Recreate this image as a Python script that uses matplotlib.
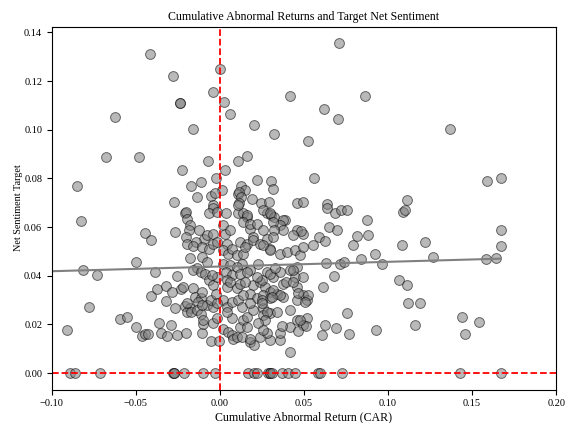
import matplotlib
matplotlib.use('Agg')
import matplotlib.pyplot as plt
import numpy as np

# CAR vs net sentiment target
car = [
    -0.0417, 0.0000, -0.0280, 0.0710, -0.0238, -0.0235, -0.0040, 0.0024, 0.0061, 0.0417,
    -0.0623, -0.0163, 0.0204, 0.0320, 0.0861, 0.0621, 0.0700, 0.1370, 0.0524, 0.0561,
    0.1587, 0.1670, 0.0460, 0.0496, 0.0639, 0.0635, 0.0687, 0.0718, 0.0758, 0.1110,
    0.1087, 0.1100, 0.0873, -0.0679, -0.0480, -0.0853, -0.0226, -0.0071, 0.0107, 0.0159,
    0.0030, -0.0022, -0.0171, -0.0111, 0.0220, 0.0305, 0.0315, 0.0123, 0.0147, 0.0014,
    -0.0137, -0.0052, -0.0032, 0.0105, 0.0115, 0.0123, 0.0190, 0.0111, 0.0242, 0.0293,
    -0.0274, -0.0042, -0.0044, -0.0210, -0.0205, -0.0067, -0.0020, 0.0036, 0.0107, 0.0139,
    0.0159, 0.0278, 0.0302, 0.0321, 0.0389, -0.0829,
    -0.0448, -0.0409, -0.0500, -0.0813, -0.0734, -0.0778, -0.0595, -0.0556, -0.0913, -0.0500,
    -0.0466, -0.0446, -0.0429, -0.0365, -0.0353, -0.0317, -0.0293, -0.0258, -0.0204, -0.0107,
    -0.0103, -0.0052, -0.0006, -0.0270, -0.0413, -0.0377, -0.0321, -0.0321, -0.0270, -0.0286,
    -0.0230, -0.0222, -0.0254, -0.0389, -0.0198, -0.0179, -0.0183, -0.0202, -0.0194, -0.0127,
    -0.0095, -0.0079, -0.0044, -0.0143, -0.0159, -0.0107, -0.0067, -0.0040, -0.0020, -0.0179,
    -0.0139, -0.0159, -0.0115, -0.0087, -0.0107, -0.0079, -0.0067, -0.0040, -0.0020, -0.0159,
    -0.0147, -0.0111, -0.0131, -0.0210, -0.0179, -0.0198, -0.0171, -0.0139, -0.0115, -0.0079,
    -0.0040, -0.0052, -0.0044, -0.0020,
    0.0020, 0.0030, 0.0040, 0.0060, 0.0020, 0.0049, 0.0070, 0.0020, 0.0060, 0.0036,
    0.0070, 0.0040, 0.0044, 0.0060, 0.0020, 0.0040, 0.0070, 0.0109, 0.0129, 0.0020,
    0.0049, 0.0070, 0.0079, 0.0099, 0.0129, 0.0070, 0.0119, 0.0139, 0.0159, 0.0159,
    0.0109, 0.0179, 0.0198, 0.0139, 0.0179, 0.0218, 0.0117, 0.0159, 0.0198, 0.0238,
    0.0278, 0.0298, 0.0129, 0.0179, 0.0228, 0.0278, 0.0317, 0.0357, 0.0198, 0.0238,
    0.0268, 0.0298, 0.0179, 0.0218, 0.0258, 0.0298, 0.0337, 0.0198, 0.0258, 0.0298,
    0.0258, 0.0337, 0.0238, 0.0298, 0.0278, 0.0357, 0.0357, 0.0417, 0.0456, 0.0516,
    0.0496, 0.0417, 0.0179, 0.0202, 0.0258, 0.0298, 0.0377, 0.0357, 0.0377, 0.0456,
    0.0496, 0.0258, 0.0298, 0.0357, 0.0397, 0.0446, 0.0476, 0.0496, 0.0456, 0.0417,
    0.0446, 0.0496, 0.0377, 0.0456, 0.0377, 0.0496, 0.0456, 0.0516, 0.0417,
    0.0591, 0.0627, 0.0651, 0.0695, 0.0552, 0.0790, 0.0814, 0.0883, 0.0629, 0.0714,
    0.0738, 0.0837, 0.0925, 0.0964, 0.1083, 0.1222, 0.1266, 0.1581, 0.1641, 0.1671,
    0.1671, 0.0680, 0.0615, 0.1064, 0.1115, 0.1121, 0.1190, 0.0754, 0.0627, 0.0690,
    0.0609, 0.0770, 0.0927, 0.1159, 0.1442, 0.1540, 0.1458, 0.0526, 0.0506, 0.0510,
    0.0476, 0.0466, 0.0480, 0.0437, 0.0317, 0.0321, 0.0314,
    0.0248, 0.0298, 0.0327, 0.0436, 0.0393, 0.0436, 0.0317, 0.0357, 0.0308, 0.0248,
    0.0278, 0.0367, 0.0466,
    -0.0049, -0.0024, -0.0198, -0.0109, -0.0109, -0.0099, -0.0020,
    0.0099, 0.0139, 0.0149, 0.0258, 0.0099, 0.0119, 0.0159, 0.0218,
    0.0099, 0.0119, 0.0149, 0.0139, 0.0248, 0.0179,
    0.0040, 0.0159, 0.0179, 0.0268, 0.0228, 0.0258,
    # companies with zero net sentiment
    -0.0893, -0.0863, -0.0714, -0.0282, -0.0274, -0.0274, -0.0214, -0.0103, -0.0030, 0.0169,
    0.0202, 0.0218, 0.0288, 0.0298, 0.0298, 0.0308, 0.0367, 0.0407, 0.0446, 0.0585,
    0.0595, 0.0724, 0.1425, 0.1671,
]

sentiment = [
    0.1310, 0.1250, 0.1220, 0.1356, 0.1110, 0.1112, 0.1155, 0.1114, 0.1066, 0.1137,
    0.1054, 0.1002, 0.1018, 0.0984, 0.1140, 0.1084, 0.1043, 0.1002, 0.0955, 0.0800,
    0.0789, 0.0802, 0.0698, 0.0703, 0.0695, 0.0677, 0.0656, 0.0669, 0.0669, 0.0710,
    0.0664, 0.0669, 0.0630, 0.0890, 0.0887, 0.0769, 0.0833, 0.0873, 0.0873, 0.0891,
    0.0833, 0.0803, 0.0770, 0.0784, 0.0795, 0.0789, 0.0757, 0.0770, 0.0754, 0.0751,
    0.0725, 0.0729, 0.0740, 0.0737, 0.0744, 0.0724, 0.0716, 0.0700, 0.0700, 0.0702,
    0.0705, 0.0692, 0.0679, 0.0656, 0.0660, 0.0658, 0.0661, 0.0656, 0.0658, 0.0656,
    0.0642, 0.0658, 0.0650, 0.0642, 0.0630, 0.0627,
    0.0575, 0.0549, 0.0457, 0.0423, 0.0402, 0.0272, 0.0222, 0.0229, 0.0177, 0.0190,
    0.0152, 0.0159, 0.0160, 0.0204, 0.0165, 0.0152, 0.0196, 0.0155, 0.0163, 0.0163,
    0.0201, 0.0130, 0.0133, 0.0580, 0.0316, 0.0346, 0.0357, 0.0297, 0.0266, 0.0334,
    0.0344, 0.0352, 0.0398, 0.0416, 0.0635, 0.0608, 0.0587, 0.0560, 0.0532, 0.0587,
    0.0553, 0.0567, 0.0573, 0.0539, 0.0521, 0.0518, 0.0512, 0.0532, 0.0539, 0.0471,
    0.0430, 0.0423, 0.0416, 0.0409, 0.0478, 0.0457, 0.0382, 0.0361, 0.0395, 0.0348,
    0.0313, 0.0307, 0.0293, 0.0275, 0.0266, 0.0252, 0.0252, 0.0259, 0.0242, 0.0279,
    0.0272, 0.0300, 0.0204, 0.0225,
    0.0608, 0.0573, 0.0532, 0.0590, 0.0505, 0.0491, 0.0512, 0.0450, 0.0443, 0.0416,
    0.0402, 0.0382, 0.0354, 0.0375, 0.0300, 0.0272, 0.0293, 0.0300, 0.0272, 0.0183,
    0.0170, 0.0156, 0.0142, 0.0149, 0.0149, 0.0225, 0.0190, 0.0218, 0.0231, 0.0649,
    0.0690, 0.0594, 0.0560, 0.0621, 0.0614, 0.0614, 0.0539, 0.0532, 0.0546, 0.0532,
    0.0553, 0.0512, 0.0450, 0.0423, 0.0450, 0.0416, 0.0395, 0.0416, 0.0361, 0.0375,
    0.0354, 0.0334, 0.0327, 0.0307, 0.0320, 0.0307, 0.0327, 0.0259, 0.0266, 0.0245,
    0.0238, 0.0252, 0.0149, 0.0135, 0.0163, 0.0135, 0.0163, 0.0190, 0.0218, 0.0225,
    0.0197, 0.0087, 0.0128, 0.0115, 0.0669, 0.0656, 0.0628, 0.0608, 0.0587, 0.0587,
    0.0573, 0.0587, 0.0505, 0.0491, 0.0498, 0.0505, 0.0484, 0.0518, 0.0436, 0.0423,
    0.0395, 0.0395, 0.0368, 0.0354, 0.0313, 0.0320, 0.0300, 0.0300, 0.0259,
    0.0560, 0.0543, 0.0600, 0.0590, 0.0528, 0.0528, 0.0562, 0.0569, 0.0454, 0.0447,
    0.0456, 0.0467, 0.0491, 0.0450, 0.0528, 0.0539, 0.0478, 0.0468, 0.0471, 0.0590,
    0.0521, 0.0398, 0.0354, 0.0384, 0.0360, 0.0286, 0.0289, 0.0245, 0.0196, 0.0186,
    0.0157, 0.0160, 0.0178, 0.0196, 0.0231, 0.0209, 0.0160, 0.0320, 0.0293, 0.0193,
    0.0218, 0.0174, 0.0584, 0.0567, 0.0621, 0.0587, 0.0560,
    0.0382, 0.0409, 0.0430, 0.0423, 0.0375, 0.0375, 0.0341, 0.0320, 0.0313, 0.0300,
    0.0252, 0.0193, 0.0330,
    0.0402, 0.0327, 0.0286, 0.0279, 0.0334, 0.0218, 0.0286,
    0.0484, 0.0491, 0.0519, 0.0525, 0.0436, 0.0409, 0.0416, 0.0395,
    0.0348, 0.0368, 0.0375, 0.0320, 0.0286, 0.0286,
    0.0252, 0.0190, 0.0142, 0.0218, 0.0204, 0.0177,
    0.0, 0.0, 0.0, 0.0, 0.0, 0.0, 0.0, 0.0, 0.0, 0.0,
    0.0, 0.0, 0.0, 0.0, 0.0, 0.0, 0.0, 0.0, 0.0, 0.0,
    0.0, 0.0, 0.0, 0.0,
]

x = np.array(car)
y = np.array(sentiment)

plt.rcParams['font.family'] = ['Liberation Serif', 'DejaVu Serif']

fig = plt.figure(figsize=(5.83, 4.23), dpi=100)
ax = fig.add_axes([0.089, 0.079, 0.865, 0.858])

ax.scatter(x, y, s=50, color='gray', alpha=0.55, edgecolor='black', linewidth=0.7)

# linear fit
slope, intercept = np.polyfit(x, y, 1)
xfit = np.array([-0.1, x.max()])
ax.plot(xfit, slope * xfit + intercept, color='gray', lw=1.5)

ax.axhline(0, color='red', linestyle='--', lw=1.3)
ax.axvline(0, color='red', linestyle='--', lw=1.3)

ax.set_xlim(-0.1, 0.2)
ax.set_title('Cumulative Abnormal Returns and Target Net Sentiment', fontsize=8.6, pad=5)
ax.set_xlabel('Cumulative Abnormal Return (CAR)', fontsize=8.6, labelpad=2)
ax.set_ylabel('Net Sentiment Target', fontsize=7.3, labelpad=0.5)
ax.tick_params(labelsize=7.5)

fig.savefig('out.png', dpi=100)
